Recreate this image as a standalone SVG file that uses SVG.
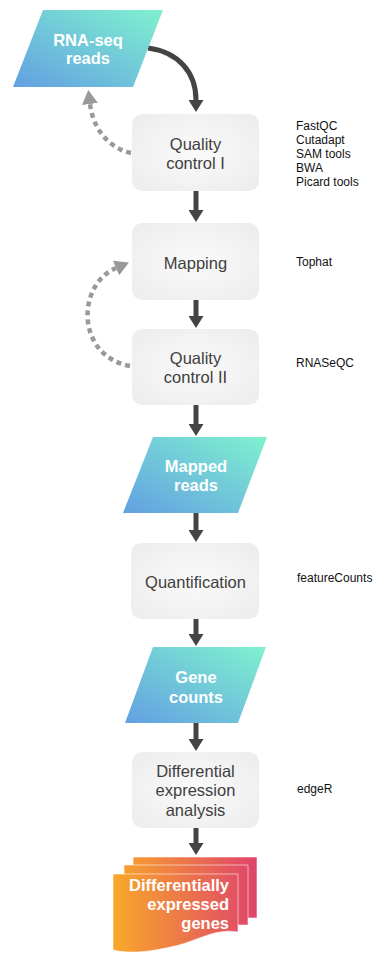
<svg xmlns="http://www.w3.org/2000/svg" width="374" height="956" viewBox="0 0 374 956">
<defs>
<linearGradient id="blueg" x1="0" y1="1" x2="1" y2="0">
<stop offset="0" stop-color="#62A0E2"/>
<stop offset="1" stop-color="#80F1CF"/>
</linearGradient>
<linearGradient id="redg" gradientUnits="userSpaceOnUse" x1="113" y1="0" x2="257" y2="0">
<stop offset="0" stop-color="#F9A82A"/>
<stop offset="1" stop-color="#DF446B"/>
</linearGradient>
<radialGradient id="boxg" cx="0.5" cy="0.5" r="0.6">
<stop offset="0" stop-color="#FAFAFA"/>
<stop offset="1" stop-color="#EEEEEE"/>
</radialGradient>
<marker id="arr" viewBox="0 0 12 15" refX="0" refY="7.5" markerWidth="12" markerHeight="15" markerUnits="userSpaceOnUse" orient="auto">
<path d="M0,0 L12,7.5 L0,15 Z" fill="#444444"/>
</marker>
<marker id="garr" viewBox="0 0 14 16" refX="0" refY="8" markerWidth="14" markerHeight="16" markerUnits="userSpaceOnUse" orient="auto">
<path d="M0,0 L14,8 L0,16 Z" fill="#999999"/>
</marker>
</defs>
<style>
.box{fill:url(#boxg);}
.lbl{font-family:"Liberation Sans",Arial,sans-serif;font-size:16.5px;fill:#404040;text-anchor:middle;}
.wlbl{font-family:"Liberation Sans",Arial,sans-serif;font-size:16.5px;font-weight:bold;fill:#ffffff;text-anchor:middle;}
.tool{font-family:"Liberation Sans",Arial,sans-serif;font-size:12px;fill:#111111;}
.main{fill:none;stroke:#444444;stroke-width:5;marker-end:url(#arr);}
.dash{fill:none;stroke:#999999;stroke-width:4.5;stroke-dasharray:5 4;marker-end:url(#garr);}
.sheet{fill:url(#redg);stroke:#ffffff;stroke-opacity:0.55;stroke-width:1;}
</style>

<g id="connectors">
<path class="main" d="M148,48 C178,52 196,72 196,100"/>
<path class="main" d="M196,191 V210"/>
<path class="main" d="M196,300 V316"/>
<path class="main" d="M196,405 V424"/>
<path class="main" d="M196,513 V530"/>
<path class="main" d="M196,619 V634"/>
<path class="main" d="M196,723 V739"/>
<path class="main" d="M196,828 V843"/>
<path class="dash" d="M131,153 C108,148 93,128 90,104"/>
<path class="dash" d="M130,366 C76,356 76,285 116,268"/>
</g>

<g id="rnaseq">
<polygon points="43,10 163,10 133,87 13,87" fill="url(#blueg)"/>
<text class="wlbl" x="88" y="45.5">RNA-seq</text>
<text class="wlbl" x="88" y="63.5">reads</text>
</g>

<g id="qc1">
<rect class="box" x="132" y="114" width="127" height="77" rx="10"/>
<text class="lbl" x="195.5" y="150">Quality</text>
<text class="lbl" x="195.5" y="169">control I</text>
</g>
<g id="qc1tools">
<text class="tool" x="296" y="129.5">FastQC</text>
<text class="tool" x="296" y="143.6">Cutadapt</text>
<text class="tool" x="296" y="157.7">SAM tools</text>
<text class="tool" x="296" y="171.8">BWA</text>
<text class="tool" x="296" y="185.9">Picard tools</text>
</g>

<g id="mapping">
<rect class="box" x="132" y="223" width="127" height="77" rx="10"/>
<text class="lbl" x="195.5" y="269.3">Mapping</text>
</g>
<g id="mappingtools">
<text class="tool" x="296" y="266">Tophat</text>
</g>

<g id="qc2">
<rect class="box" x="132" y="329" width="127" height="76" rx="10"/>
<text class="lbl" x="195.5" y="364.3">Quality</text>
<text class="lbl" x="195.5" y="383">control II</text>
</g>
<g id="qc2tools">
<text class="tool" x="296" y="367.3">RNASeQC</text>
</g>

<g id="mapped">
<polygon points="153,437 267,437 238,513 123,513" fill="url(#blueg)"/>
<text class="wlbl" x="196" y="471.7">Mapped</text>
<text class="wlbl" x="196" y="491">reads</text>
</g>

<g id="quant">
<rect class="box" x="131" y="543" width="128" height="76" rx="10"/>
<text class="lbl" x="195.5" y="588.3">Quantification</text>
</g>
<g id="quanttools">
<text class="tool" x="297" y="581.7">featureCounts</text>
</g>

<g id="genecounts">
<polygon points="153,647 266,647 238,723 125,723" fill="url(#blueg)"/>
<text class="wlbl" x="196" y="683.3">Gene</text>
<text class="wlbl" x="196" y="703.3">counts</text>
</g>

<g id="dea">
<rect class="box" x="132" y="752" width="127" height="76" rx="10"/>
<text class="lbl" x="195.5" y="777.3">Differential</text>
<text class="lbl" x="195.5" y="796.3">expression</text>
<text class="lbl" x="195.5" y="815.5">analysis</text>
</g>
<g id="deatools">
<text class="tool" x="297" y="793.3">edgeR</text>
</g>

<g id="deg">
<path class="sheet" d="M133,857 H257 V918 H133 Z"/>
<path class="sheet" d="M124,865 H248 V925 H124 Z"/>
<path class="sheet" d="M113,874 H238 V932 C215,928 200,940 175,946 C150,952 130,954 113,950 Z"/>
<text class="wlbl" x="229" y="890.7" text-anchor="end" style="text-anchor:end">Differentially</text>
<text class="wlbl" x="229" y="909.5" style="text-anchor:end">expressed</text>
<text class="wlbl" x="229" y="929" style="text-anchor:end">genes</text>
</g>
</svg>
